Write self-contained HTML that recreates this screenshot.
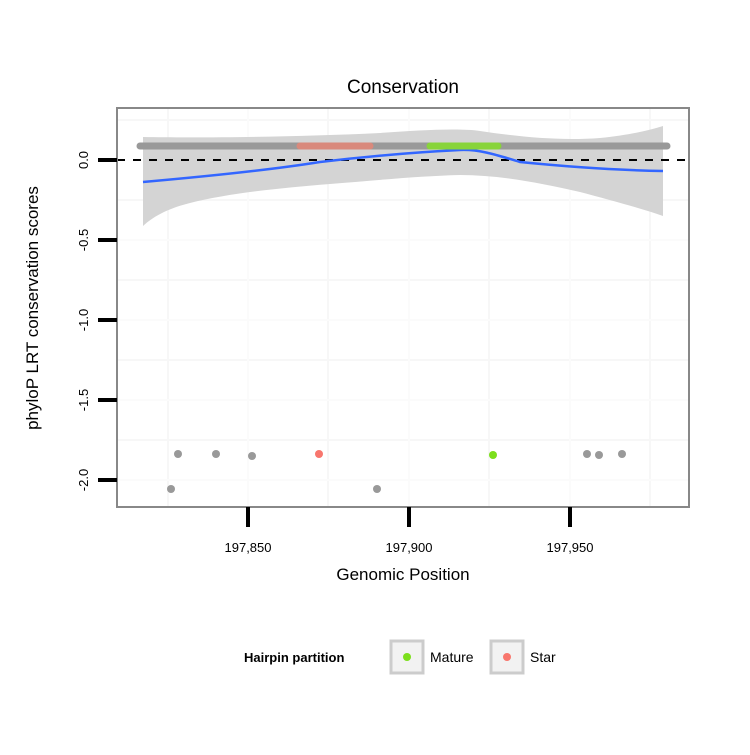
<!DOCTYPE html>
<html><head><style>body{margin:0;background:#fff}svg text{font-family:"Liberation Sans",sans-serif}</style></head>
<body>
<svg width="750" height="750" xmlns="http://www.w3.org/2000/svg">
<rect width="750" height="750" fill="#fff"/>
<g stroke="#f7f7f7" stroke-width="2">
<line x1="168" y1="108" x2="168" y2="507"/><line x1="328" y1="108" x2="328" y2="507"/><line x1="489" y1="108" x2="489" y2="507"/><line x1="650" y1="108" x2="650" y2="507"/>
<line x1="117" y1="120" x2="689" y2="120"/><line x1="117" y1="200" x2="689" y2="200"/><line x1="117" y1="280" x2="689" y2="280"/><line x1="117" y1="360" x2="689" y2="360"/><line x1="117" y1="440" x2="689" y2="440"/>
</g>
<g stroke="#fbfbfb" stroke-width="2">
<line x1="248" y1="108" x2="248" y2="507"/><line x1="409" y1="108" x2="409" y2="507"/><line x1="570" y1="108" x2="570" y2="507"/>
<line x1="117" y1="240" x2="689" y2="240"/><line x1="117" y1="320" x2="689" y2="320"/><line x1="117" y1="400" x2="689" y2="400"/><line x1="117" y1="480" x2="689" y2="480"/>
</g>
<path d="M143,137 C200,138 300,137 380,133 C420,130 460,128 480,131 C520,137 560,141 600,138 C630,135 650,130 663,126 L663,216 C640,208 610,200 580,192 C540,183 500,175 460,175 C420,176 380,180 330,184 C280,188 230,193 190,203 C170,208 155,215 143,226 Z" fill="#d4d4d4"/>
<line x1="117" y1="160" x2="689" y2="160" stroke="#000" stroke-width="2" stroke-dasharray="8,8"/>
<path d="M143,182 C200,177 270,170 320,162 C370,156 420,152 460,150 C480,149 500,156 520,162 C560,166 610,170 663,171" fill="none" stroke="#3366ff" stroke-width="2.5"/>
<line x1="140" y1="146" x2="667" y2="146" stroke="#999" stroke-width="7" stroke-linecap="round"/>
<line x1="300" y1="146" x2="370" y2="146" stroke="#d9897c" stroke-width="7" stroke-linecap="round"/>
<line x1="430" y1="146" x2="498" y2="146" stroke="#88d43a" stroke-width="7" stroke-linecap="round"/>
<g fill="#999">
<circle cx="178" cy="454" r="4"/><circle cx="216" cy="454" r="4"/><circle cx="252" cy="456" r="4"/><circle cx="171" cy="489" r="4"/><circle cx="377" cy="489" r="4"/><circle cx="587" cy="454" r="4"/><circle cx="599" cy="455" r="4"/><circle cx="622" cy="454" r="4"/>
</g>
<circle cx="319" cy="454" r="4" fill="#f8766d"/><circle cx="493" cy="455" r="4" fill="#7cdf1c"/>
<rect x="117" y="108" width="572" height="399" fill="none" stroke="#888" stroke-width="2"/>
<g stroke="#000" stroke-width="4">
<line x1="98" y1="160" x2="117" y2="160"/><line x1="98" y1="240" x2="117" y2="240"/><line x1="98" y1="320" x2="117" y2="320"/><line x1="98" y1="400" x2="117" y2="400"/><line x1="98" y1="480" x2="117" y2="480"/>
<line x1="248" y1="507" x2="248" y2="527"/><line x1="409" y1="507" x2="409" y2="527"/><line x1="570" y1="507" x2="570" y2="527"/>
</g>
<g font-size="13" text-anchor="middle">
<text transform="translate(88,160) rotate(-90)">0.0</text><text transform="translate(88,240) rotate(-90)">-0.5</text><text transform="translate(88,320) rotate(-90)">-1.0</text><text transform="translate(88,400) rotate(-90)">-1.5</text><text transform="translate(88,480) rotate(-90)">-2.0</text>
<text x="248" y="552">197,850</text><text x="409" y="552">197,900</text><text x="570" y="552">197,950</text>
</g>
<text x="403" y="93" font-size="19" text-anchor="middle">Conservation</text>
<text x="403" y="580" font-size="17" text-anchor="middle">Genomic Position</text>
<text transform="translate(38,308) rotate(-90)" font-size="17" text-anchor="middle">phyloP LRT conservation scores</text>
<text x="244" y="662" font-size="13" font-weight="bold">Hairpin partition</text>
<rect x="391" y="641" width="32" height="32" fill="#f2f2f2" stroke="#ccc" stroke-width="3"/>
<circle cx="407" cy="657" r="4" fill="#7cdf1c"/>
<text x="430" y="662" font-size="14">Mature</text>
<rect x="491" y="641" width="32" height="32" fill="#f2f2f2" stroke="#ccc" stroke-width="3"/>
<circle cx="507" cy="657" r="4" fill="#f8766d"/>
<text x="530" y="662" font-size="14">Star</text>
</svg>
</body></html>
